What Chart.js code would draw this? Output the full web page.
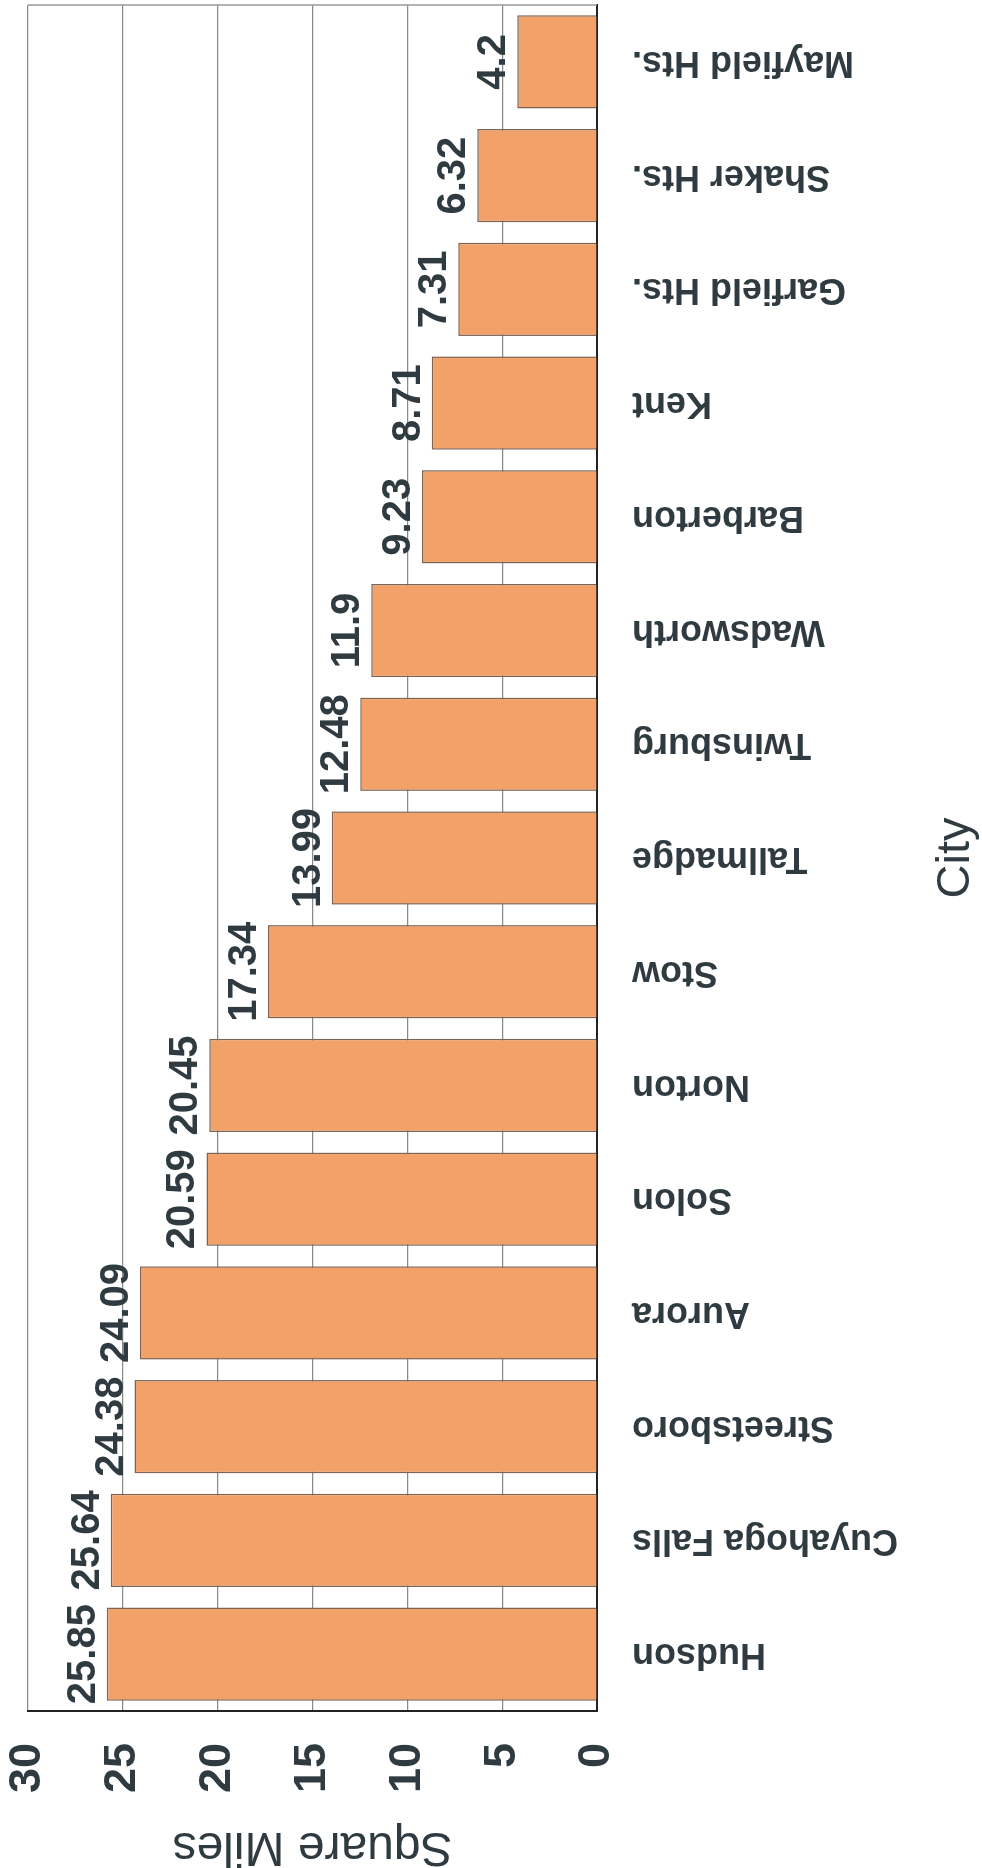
<!DOCTYPE html>
<html><head><meta charset="utf-8">
<script src="https://cdn.jsdelivr.net/npm/chart.js@4.4.1/dist/chart.umd.min.js"></script>
<style>
html,body{margin:0;padding:0;background:#fff;overflow:hidden;width:982px;height:1868px;}
#wrap{position:absolute;left:0;top:0;width:1868px;height:982px;transform-origin:0 0;transform:translateY(1868px) rotate(-90deg);background:#fff;}
</style></head><body>
<div id="wrap"><canvas id="c" width="1868" height="982"></canvas></div>
<script>
const categories = ["Hudson","Cuyahoga Falls","Streetsboro","Aurora","Solon","Norton","Stow","Tallmadge","Twinsburg","Wadsworth","Barberton","Kent","Garfield Hts.","Shaker Hts.","Mayfield Hts."];
const areaValues = [25.85,25.64,24.38,24.09,20.59,20.45,17.34,13.99,12.48,11.9,9.23,8.71,7.31,6.32,4.2];
const valueTicks = [0,5,10,15,20,25,30];
const valueTitle = "Square Miles";
const categoryTitle = "City";

const textColor = '#2f3b41';
const fontFam = '"Liberation Sans", Arial, sans-serif';

const barLabels = {
  id: 'barLabels',
  afterDatasetsDraw(chart) {
    const ctx = chart.ctx;
    const meta = chart.getDatasetMeta(0);
    ctx.save();
    ctx.font = 'bold 40px ' + fontFam;
    ctx.fillStyle = textColor;
    ctx.textAlign = 'center';
    ctx.textBaseline = 'alphabetic';
    meta.data.forEach((bar, i) => {
      ctx.fillText(String(areaValues[i]), bar.x, bar.y - 12);
    });
    ctx.restore();
  }
};

const frame = {
  id: 'frame',
  beforeDatasetsDraw(chart) {
    const a = chart.chartArea, ctx = chart.ctx;
    ctx.save();
    ctx.strokeStyle = '#9a9a9a';
    ctx.lineWidth = 1.5;
    ctx.beginPath();
    ctx.moveTo(a.right, a.top);
    ctx.lineTo(a.right, a.bottom);
    ctx.stroke();
    ctx.restore();
  }
};

new Chart(document.getElementById('c'), {
  type: 'bar',
  data: {
    labels: categories,
    datasets: [{
      data: areaValues,
      backgroundColor: '#f2a268',
      borderColor: '#7d6353',
      borderWidth: 1.5,
      categoryPercentage: 1,
      barPercentage: 0.82
    }]
  },
  options: {
    responsive: false,
    devicePixelRatio: 1,
    animation: false,
    layout: { padding: { top: 28, right: 5, left: 0, bottom: 0 } },
    plugins: { legend: { display: false }, tooltip: { enabled: false } },
    scales: {
      x: {
        grid: { display: false, drawTicks: false },
        border: { display: true, color: '#222', width: 2 },
        ticks: {
          autoSkip: false, minRotation: 90, maxRotation: 90,
          padding: 35, color: textColor,
          font: { family: fontFam, size: 36, weight: 'bold' }
        },
        title: {
          display: true, text: categoryTitle, color: textColor,
          font: { family: fontFam, size: 47, weight: 'normal', lineHeight: 1.1 },
          padding: { top: 0, bottom: 0 }
        },
        afterFit(s) { s.height = 385; s.paddingLeft = 0; s.paddingRight = 0; }
      },
      y: {
        min: valueTicks[0], max: valueTicks[valueTicks.length - 1],
        afterBuildTicks(s) { s.ticks = valueTicks.map(v => ({ value: v })); },
        grid: { color: '#8a8a8a', lineWidth: 1.2, drawTicks: false },
        border: { display: true, color: '#222', width: 2 },
        ticks: {
          padding: 32, color: textColor,
          font: { family: fontFam, size: 45, weight: 'bold' }
        },
        title: {
          display: true, text: valueTitle, color: textColor,
          font: { family: fontFam, size: 48, weight: 'normal', lineHeight: 0.9 },
          padding: 0
        },
        afterFit(s) { s.width = 157; s.paddingTop = 0; s.paddingBottom = 0; }
      }
    }
  },
  plugins: [frame, barLabels]
});
</script>
</body></html>
